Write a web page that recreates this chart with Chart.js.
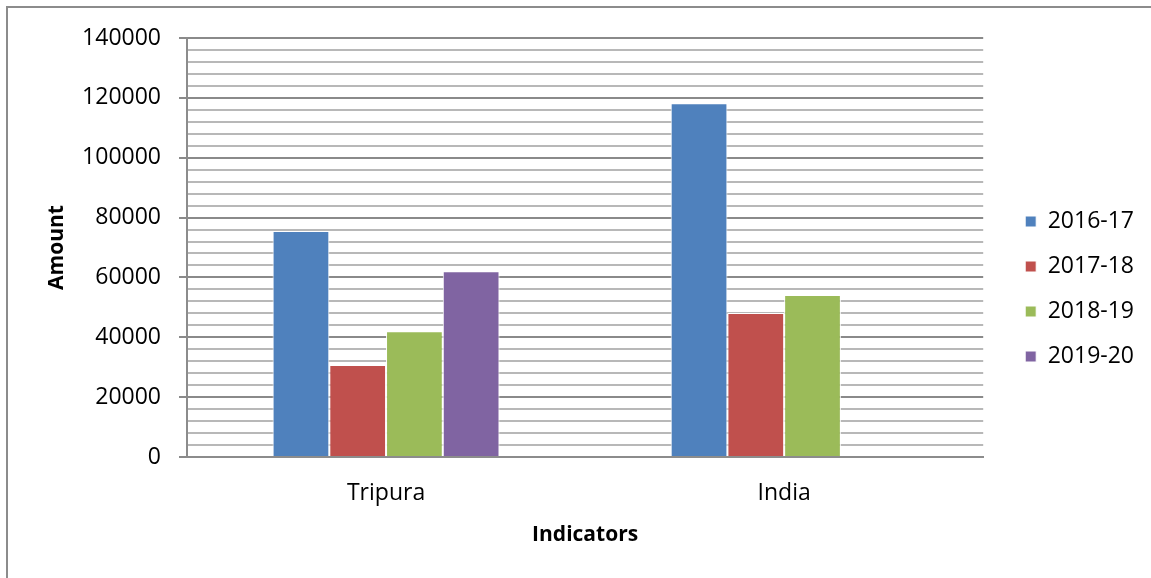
<!DOCTYPE html>
<html>
<head>
<meta charset="utf-8">
<title>Amount by indicator</title>
<script src="https://cdn.jsdelivr.net/npm/chart.js@4/dist/chart.umd.min.js"></script>
<style>
  html, body { margin: 0; padding: 0; background: #fff; }
  #wrap { position: relative; width: 1151px; height: 578px; }
  #frame {
    position: absolute; left: 6px; top: 6px; right: -10px; bottom: -10px;
    border-top: 2px solid #8c8c8c; border-left: 2px solid #8c8c8c;
    pointer-events: none;
  }
  canvas { position: absolute; left: 0; top: 0; }
</style>
</head>
<body>
<div id="wrap">
  <canvas id="chart" width="1151" height="578"></canvas>
  <div id="frame"></div>
</div>
<script>
  const categories = ["Tripura", "India"];
  const seriesNames = ["2016-17", "2017-18", "2018-19", "2019-20"];
  const values2016 = [75500, 118200];
  const values2017 = [30700, 48100];
  const values2018 = [42000, 54100];
  const values2019 = [62100, null];
  const seriesColors = ["#4f81bd", "#c0504d", "#9bbb59", "#8064a2"];

  const font = "'Open Sans', 'Liberation Sans', sans-serif";
  const allValues = [values2016, values2017, values2018, values2019];

  const datasets = seriesNames.map((name, i) => ({
    label: name,
    data: allValues[i],
    backgroundColor: seriesColors[i],
    borderColor: "#ffffff",
    borderWidth: 1,
    borderSkipped: "bottom",
    categoryPercentage: 0.57,
    barPercentage: 1.0
  }));

  const isMajor = (v) => v % 20000 === 0;

  // empty axes used only to reserve space around the plot
  const spacer = (position, size) => ({
    type: "linear",
    position,
    display: true,
    grid: { display: false, drawTicks: false },
    border: { display: false },
    ticks: { display: false },
    afterFit: (s) => {
      if (position === "top") s.height = size; else s.width = size;
    }
  });

  new Chart(document.getElementById("chart"), {
    type: "bar",
    data: { labels: categories, datasets },
    options: {
      responsive: false,
      animation: false,
      layout: { padding: { top: 0, right: 7, bottom: 0, left: 0 } },
      plugins: {
        tooltip: { enabled: false },
        legend: {
          position: "right",
          align: "center",
          labels: {
            color: "#000",
            font: { family: font, size: 23 },
            boxWidth: 11,
            boxHeight: 11,
            padding: 22
          }
        }
      },
      scales: {
        x: {
          grid: { display: false, drawTicks: false },
          border: { display: true, color: "#8c8c8c", width: 2 },
          ticks: { color: "#000", font: { family: font, size: 23 }, padding: 23 },
          title: {
            display: true,
            text: "Indicators",
            color: "#000",
            font: { family: font, size: 21, weight: "bold" },
            padding: { top: 0, bottom: 30 }
          },
          afterFit: (s) => { s.height = 121; }
        },
        y: {
          min: 0,
          max: 140000,
          grid: {
            color: (ctx) => isMajor(ctx.tick.value) ? "#8a8a8a" : "#b8b8b8",
            lineWidth: 2,
            tickLength: 8,
            tickColor: (ctx) => isMajor(ctx.tick.value) ? "#8a8a8a" : "rgba(0,0,0,0)"
          },
          border: { display: true, color: "#8c8c8c", width: 2 },
          ticks: {
            stepSize: 4000,
            autoSkip: false,
            color: "#000",
            font: { family: font, size: 23 },
            padding: 18,
            callback: (v) => isMajor(v) ? String(v) : ""
          },
          title: {
            display: true,
            text: "Amount",
            color: "#000",
            font: { family: font, size: 21, weight: "bold" },
            padding: { top: 44, bottom: 0 }
          },
          afterFit: (s) => { s.width = 187; }
        },
        spacerTop: spacer("top", 38),
        spacerRight: spacer("right", 20)
      }
    }
  });
</script>
</body>
</html>
